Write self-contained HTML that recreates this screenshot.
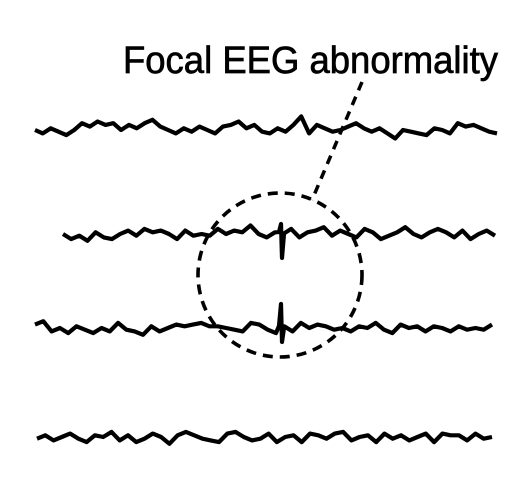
<!DOCTYPE html>
<html><head><meta charset="utf-8"><style>
html,body{margin:0;padding:0;background:#fff;}
svg{display:block;}
</style></head><body>
<svg id="c" width="526" height="488" viewBox="0 0 526 488">
<text x="123" y="73" font-family="Liberation Sans, sans-serif" font-size="38" textLength="375" lengthAdjust="spacingAndGlyphs" fill="#000" stroke="#000" stroke-width="0.7">Focal EEG abnormality</text>
<line x1="362" y1="82" x2="312" y2="200" stroke="#000" stroke-width="3.5" stroke-dasharray="9,7"/>
<circle cx="280" cy="275" r="82" fill="none" stroke="#000" stroke-width="3.6" stroke-dasharray="10,7"/>
<g id="traces"></g>
</svg>
<script>
const trace1 = [0,2,-1,1,3,0,-4,-2,-5,-3,-4,0,-3,-1,-4,-6,-2,0,2,-1,1,-2,0,2,-2,-3,-5,-1,-3,1,2,-1,1,-3,-8,2,-3,-1,1,0,-2,-4,-1,1,-1,2,5,0,1,2,3,-1,0,2,-4,-2,-3,-1,1,2];
const trace2 = [0,3,1,4,-1,2,3,0,-2,1,-3,-1,-2,0,3,-2,1,0,1,-3,0,-2,-1,-5,0,2,-1,0,-3,2,-1,-2,-4,1,-2,0,2,-3,-1,3,1,-1,-4,0,2,-1,-3,-1,2,-2,3,0,-2,1];
const trace3 = [-2,-4,2,0,3,-1,1,3,0,2,-3,1,2,4,-1,2,0,-2,-1,-2,-3,-1,-1,0,1,2,-3,-2,1,3,-1,2,-3,0,-2,-1,1,0,2,-1,0,-3,1,3,-2,0,-1,2,-1,0,2,-1,1,0,1,-2];
const trace4 = [1,-1,2,0,-2,1,3,-1,0,-3,2,-1,3,1,-2,0,4,-1,-3,-1,1,2,3,-2,-3,0,2,1,-2,3,0,-1,3,-2,-1,1,-2,-3,2,0,-1,3,-2,1,-1,2,0,-2,3,-2,-1,-1,2,-2,1,0];
const traces = [
  {vals: trace1, x0: 35, x1: 497, y: 130, spikeUp: 0, spikeDown: 0, name: 'eeg-trace-1'},
  {vals: trace2, x0: 63, x1: 495, y: 234, spikeUp: -10, spikeDown: 24, name: 'eeg-trace-2'},
  {vals: trace3, x0: 35, x1: 492, y: 328, spikeUp: -24, spikeDown: 14, name: 'eeg-trace-3'},
  {vals: trace4, x0: 37, x1: 492, y: 437, spikeUp: 0, spikeDown: 0, name: 'eeg-trace-4'}
];
const ampScale = 1.7;
const spikeX = 282;
const g = document.getElementById('traces');
const NS = 'http://www.w3.org/2000/svg';
traces.forEach(t => {
  const n = t.vals.length;
  const step = (t.x1 - t.x0) / (n - 1);
  let d = '';
  let spiked = false;
  for (let i = 0; i < n; i++) {
    const x = t.x0 + i * step;
    const y = t.y + t.vals[i] * ampScale;
    if (!spiked && t.spikeDown && x > spikeX) {
      d += ` L${spikeX-3},${t.y-2} L${spikeX-1},${t.y+t.spikeUp} L${spikeX},${t.y+t.spikeDown} L${spikeX+2},${t.y}`;
      spiked = true;
    }
    d += (i === 0 ? 'M' : ' L') + x.toFixed(1) + ',' + y.toFixed(1);
  }
  const p = document.createElementNS(NS, 'path');
  p.setAttribute('d', d);
  p.setAttribute('fill', 'none');
  p.setAttribute('stroke', '#000');
  p.setAttribute('stroke-width', '4.2');
  p.setAttribute('stroke-linejoin', 'round');
  
  
  g.appendChild(p);
});
</script>
</body></html>
